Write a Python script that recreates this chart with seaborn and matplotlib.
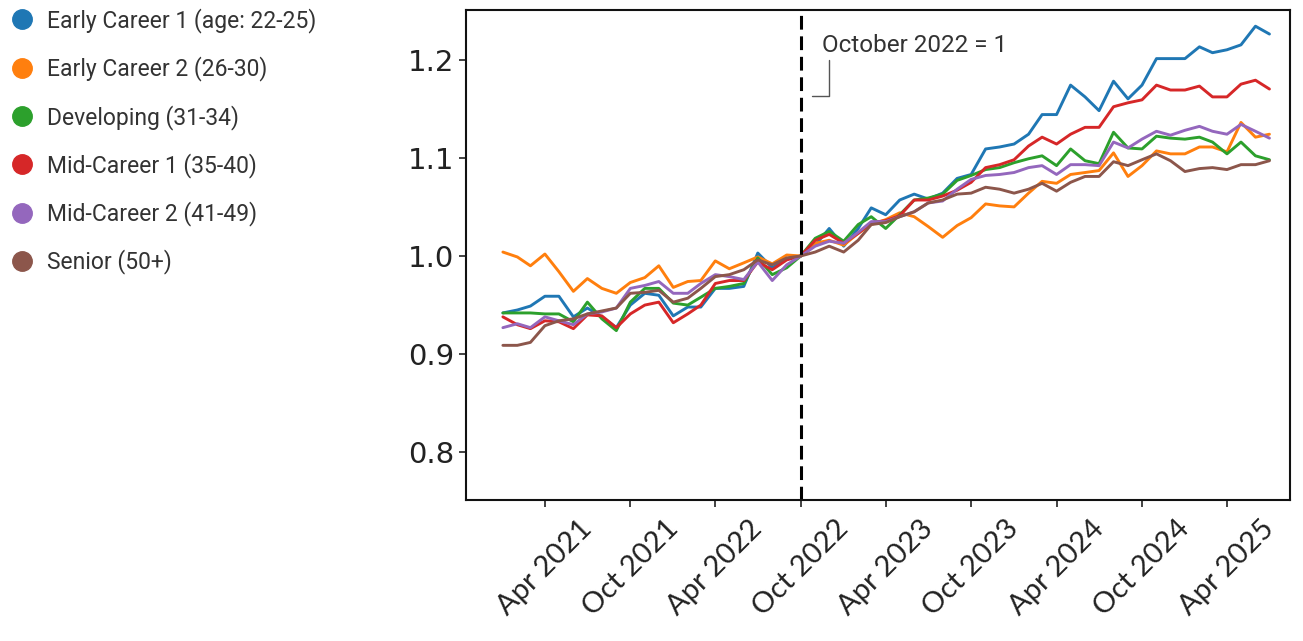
import pandas as pd
import matplotlib.pyplot as plt
import matplotlib.dates as mdates
from matplotlib.lines import Line2D
import seaborn as sns

# ─── DATA (index = Oct 2022 = 1) ──────────────────────────────────────────────
months = pd.date_range("2021-01-01", "2025-07-01", freq="MS")

groups = [
    "Early Career 1 (age: 22-25)",
    "Early Career 2 (26-30)",
    "Developing (31-34)",
    "Mid-Career 1 (35-40)",
    "Mid-Career 2 (41-49)",
    "Senior (50+)",
]

early_1 = [0.942, 0.945, 0.949, 0.959, 0.959, 0.938, 0.947, 0.938, 0.927, 0.950,
           0.962, 0.960, 0.939, 0.948, 0.948, 0.967, 0.967, 0.969, 1.003, 0.988,
           0.997, 1.000, 1.011, 1.028, 1.010, 1.028, 1.049, 1.042, 1.057, 1.063,
           1.058, 1.064, 1.079, 1.083, 1.109, 1.111, 1.114, 1.124, 1.144, 1.144,
           1.174, 1.162, 1.148, 1.178, 1.160, 1.174, 1.201, 1.201, 1.201, 1.213,
           1.207, 1.210, 1.215, 1.234, 1.226]
early_2 = [1.004, 0.999, 0.990, 1.002, 0.984, 0.964, 0.977, 0.967, 0.962, 0.973,
           0.978, 0.990, 0.968, 0.974, 0.975, 0.995, 0.987, 0.993, 0.999, 0.992,
           1.001, 1.000, 1.013, 1.016, 1.011, 1.023, 1.032, 1.037, 1.044, 1.040,
           1.030, 1.019, 1.031, 1.039, 1.053, 1.051, 1.050, 1.064, 1.076, 1.074,
           1.083, 1.085, 1.087, 1.105, 1.081, 1.092, 1.107, 1.104, 1.104, 1.111,
           1.111, 1.106, 1.136, 1.121, 1.124]
developing = [0.942, 0.942, 0.942, 0.941, 0.941, 0.933, 0.953, 0.936, 0.924, 0.953,
              0.967, 0.967, 0.952, 0.950, 0.958, 0.967, 0.969, 0.972, 0.998, 0.981,
              0.988, 1.000, 1.018, 1.025, 1.015, 1.032, 1.040, 1.028, 1.042, 1.057,
              1.059, 1.063, 1.077, 1.082, 1.088, 1.090, 1.095, 1.099, 1.102, 1.092,
              1.109, 1.097, 1.094, 1.126, 1.110, 1.109, 1.122, 1.120, 1.119, 1.121,
              1.116, 1.104, 1.116, 1.102, 1.098]
mid_1 = [0.938, 0.930, 0.926, 0.934, 0.933, 0.926, 0.940, 0.939, 0.927, 0.941,
         0.950, 0.953, 0.932, 0.941, 0.950, 0.972, 0.975, 0.975, 0.994, 0.986,
         0.996, 1.000, 1.016, 1.022, 1.013, 1.023, 1.034, 1.036, 1.041, 1.057,
         1.057, 1.061, 1.067, 1.075, 1.090, 1.093, 1.098, 1.112, 1.121, 1.114,
         1.124, 1.131, 1.131, 1.152, 1.156, 1.159, 1.174, 1.169, 1.169, 1.173,
         1.162, 1.162, 1.175, 1.179, 1.170]
mid_2 = [0.927, 0.931, 0.927, 0.938, 0.934, 0.930, 0.941, 0.943, 0.947, 0.967,
         0.970, 0.974, 0.962, 0.962, 0.972, 0.981, 0.979, 0.976, 0.994, 0.975,
         0.991, 1.000, 1.010, 1.015, 1.013, 1.024, 1.035, 1.035, 1.040, 1.045,
         1.054, 1.056, 1.068, 1.078, 1.082, 1.083, 1.085, 1.090, 1.092, 1.083,
         1.093, 1.093, 1.092, 1.116, 1.110, 1.119, 1.127, 1.123, 1.128, 1.132,
         1.127, 1.124, 1.134, 1.127, 1.120]
senior = [0.909, 0.909, 0.912, 0.929, 0.934, 0.936, 0.941, 0.944, 0.947, 0.962,
          0.963, 0.965, 0.953, 0.957, 0.967, 0.979, 0.981, 0.986, 0.996, 0.991,
          0.998, 1.000, 1.004, 1.010, 1.004, 1.016, 1.032, 1.034, 1.040, 1.045,
          1.054, 1.057, 1.063, 1.064, 1.070, 1.068, 1.064, 1.068, 1.074, 1.066,
          1.075, 1.081, 1.081, 1.096, 1.092, 1.098, 1.104, 1.097, 1.086, 1.089,
          1.090, 1.088, 1.093, 1.093, 1.097]

series = [early_1, early_2, developing, mid_1, mid_2, senior]
base_date = pd.Timestamp("2022-10-01")

df = pd.concat(
    [pd.DataFrame({"month": months, "index": vals, "group": g})
     for g, vals in zip(groups, series)],
    ignore_index=True,
)

# ─── STYLE ────────────────────────────────────────────────────────────────────
sns.set_style("ticks")
plt.rcParams.update({
    "font.family": ["DejaVu Sans"],
    "axes.linewidth": 1.5,
    "axes.edgecolor": "#111111",
    "xtick.major.size": 5,
    "ytick.major.size": 5,
    "xtick.major.width": 1.2,
    "ytick.major.width": 1.2,
})
palette = sns.color_palette("tab10", len(groups))

fig = plt.figure(figsize=(13.03, 6.41), dpi=100)
ax = fig.add_axes([466 / 1303, 1 - 500 / 641, (1290 - 466) / 1303, 490 / 641])

sns.lineplot(data=df, x="month", y="index", hue="group", hue_order=groups,
             palette=palette, linewidth=2.1, legend=False, ax=ax)

ax.axvline(base_date, color="black", linestyle=(0, (4.5, 2.2)), linewidth=2.2)

ax.annotate("October 2022 = 1",
            xy=(346 / 824, 404 / 490), xycoords="axes fraction",
            xytext=(356 / 824, 455 / 490), textcoords="axes fraction",
            ha="left", va="center", fontsize=17.5, family=["Roboto", "DejaVu Sans"],
            color="#333333",
            arrowprops=dict(arrowstyle="-", color="#555555", lw=1,
                            connectionstyle="angle,angleA=-90,angleB=0,rad=0",
                            relpos=(0.04, 0.1), shrinkA=0, shrinkB=0))

ax.set_xlim(pd.Timestamp("2020-10-14"), pd.Timestamp("2025-08-14"))
ax.set_ylim(0.7515, 1.2505)
ax.set_yticks([0.8, 0.9, 1.0, 1.1, 1.2])
ax.xaxis.set_major_locator(mdates.MonthLocator(bymonth=[4, 10]))
ax.xaxis.set_major_formatter(mdates.DateFormatter("%b %Y"))
ax.set_xlabel("")
ax.set_ylabel("")
ax.tick_params(axis="y", labelsize=21, colors="#222222")
ax.tick_params(axis="x", labelsize=21, colors="#222222", pad=6)
for lab in ax.get_xticklabels():
    lab.set_rotation(45)
    lab.set_family(["Lato", "DejaVu Sans"])
for side in ["top", "right", "bottom", "left"]:
    ax.spines[side].set_visible(True)

# legend with round markers on the left
handles = [Line2D([0], [0], marker="o", linestyle="", markersize=14,
                  markerfacecolor=c, markeredgecolor=c) for c in palette]
fig.legend(handles, groups, loc="upper left", bbox_to_anchor=(10.5 / 1303, 1 - 8 / 641),
           frameon=False, handlelength=1.0, handletextpad=0.6, labelspacing=1.02,
           borderpad=0, borderaxespad=0,
           prop={"family": ["Roboto", "DejaVu Sans"], "size": 16.5},
           labelcolor="#333333")

plt.savefig("out.png", dpi=100)
